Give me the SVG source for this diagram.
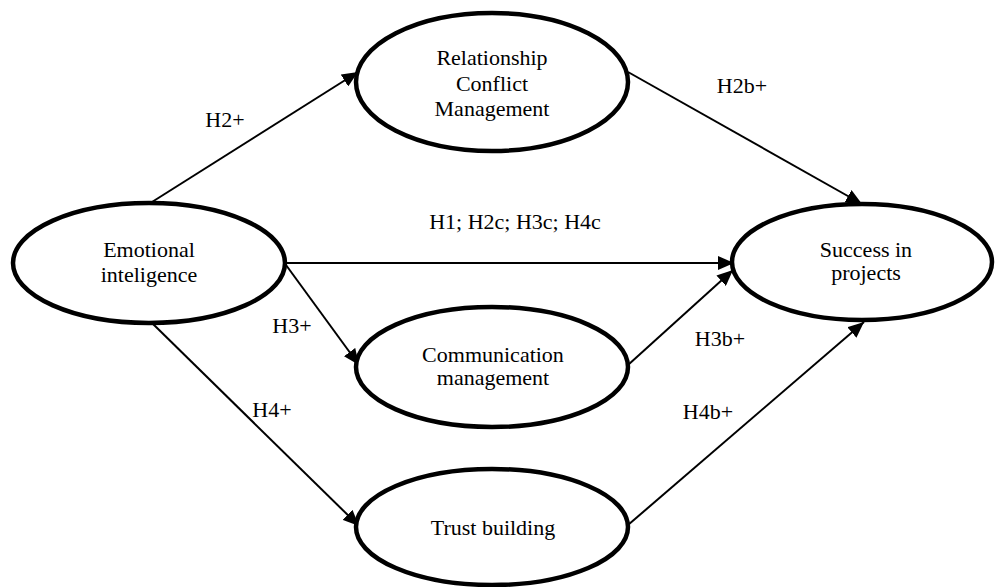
<svg xmlns="http://www.w3.org/2000/svg" width="995" height="587" viewBox="0 0 995 587" font-family="'Liberation Serif', 'Times New Roman', 'DejaVu Serif', serif">
  <style>
    .node { fill: #ffffff; stroke: #000000; stroke-width: 4.5; }
    .label { font-family: 'Liberation Serif', 'Times New Roman', 'DejaVu Serif', serif; font-size: 22px; fill: #000000; text-anchor: middle; }
    .edge { stroke: #000000; stroke-width: 2; fill: none; marker-end: url(#arrow); }
  </style>
  <defs>
    <marker id="arrow" markerUnits="userSpaceOnUse" markerWidth="18" markerHeight="14" refX="16" refY="7" orient="auto">
      <path d="M0,0 L16,7 L0,14 Z" fill="#000000"/>
    </marker>
  </defs>
  <rect width="995" height="587" fill="#ffffff"/>

  <!-- connectors -->
  <g id="connectors">
    <line class="edge" x1="152" y1="202" x2="358" y2="72"/>
    <line class="edge" x1="628" y1="72" x2="862" y2="204"/>
    <line class="edge" x1="286" y1="263" x2="734" y2="263"/>
    <line class="edge" x1="286" y1="265" x2="359" y2="365"/>
    <line class="edge" x1="152" y1="323" x2="359" y2="526"/>
    <line class="edge" x1="628" y1="365" x2="733" y2="270"/>
    <line class="edge" x1="628" y1="525" x2="864" y2="322"/>
    <text class="label" x="225" y="127">H2+</text>
    <text class="label" x="742" y="93">H2b+</text>
    <text class="label" x="515" y="229">H1; H2c; H3c; H4c</text>
    <text class="label" x="292" y="333">H3+</text>
    <text class="label" x="272" y="417">H4+</text>
    <text class="label" x="720" y="346">H3b+</text>
    <text class="label" x="708" y="419">H4b+</text>
  </g>

  <!-- nodes -->
  <g id="emotional-intelligence">
    <ellipse class="node" cx="149" cy="263" rx="136" ry="60"/>
    <text class="label" x="149" y="257">Emotional</text>
    <text class="label" x="149" y="282">inteligence</text>
  </g>
  <g id="relationship-conflict-management">
    <ellipse class="node" cx="492" cy="82" rx="136" ry="69"/>
    <text class="label" x="492" y="65">Relationship</text>
    <text class="label" x="492" y="91">Conflict</text>
    <text class="label" x="492" y="116">Management</text>
  </g>
  <g id="success-in-projects">
    <ellipse class="node" cx="862" cy="262" rx="130" ry="58"/>
    <text class="label" x="866" y="257">Success in</text>
    <text class="label" x="866" y="280">projects</text>
  </g>
  <g id="communication-management">
    <ellipse class="node" cx="492" cy="367" rx="136" ry="60"/>
    <text class="label" x="493" y="362">Communication</text>
    <text class="label" x="493" y="385">management</text>
  </g>
  <g id="trust-building">
    <ellipse class="node" cx="492" cy="527" rx="136" ry="58"/>
    <text class="label" x="493" y="535">Trust building</text>
  </g>
</svg>
